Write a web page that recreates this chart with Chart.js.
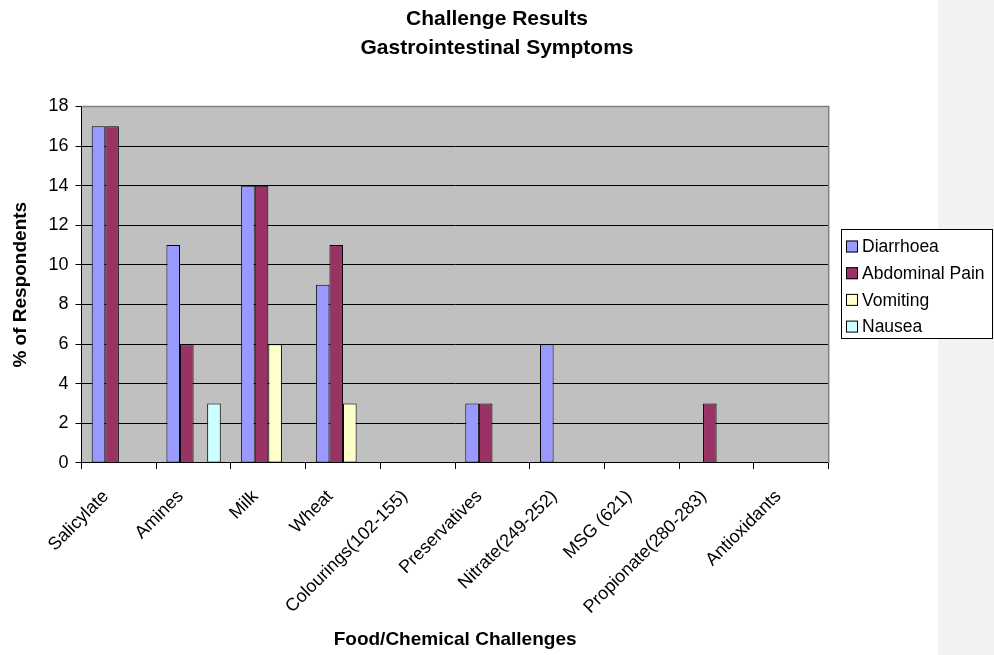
<!DOCTYPE html>
<html>
<head>
<meta charset="utf-8">
<script src="https://cdn.jsdelivr.net/npm/chart.js@4"></script>
<style>
  html, body { margin: 0; padding: 0; background: #fff; }
  #wrap { position: relative; width: 994px; height: 655px; }
  #band { position: absolute; left: 938px; top: 0; width: 56px; height: 655px; background: #f2f2f2; }
  #c { position: absolute; left: 0; top: 0; }
</style>
</head>
<body>
<div id="wrap">
  <div id="band"></div>
  <canvas id="c" width="994" height="655"></canvas>
</div>
<script>
// categories and series
const categories = ['Salicylate', 'Amines', 'Milk', 'Wheat', 'Colourings(102-155)', 'Preservatives',
  'Nitrate(249-252)', 'MSG (621)', 'Propionate(280-283)', 'Antioxidants'];
const diarrhoea    = [17, 11, 14, 9, 0, 3, 6, 0, 0, 0];
const abdominalPain = [17, 6, 14, 11, 0, 3, 0, 0, 3, 0];
const vomiting     = [0, 0, 6, 3, 0, 0, 0, 0, 0, 0];
const nausea       = [0, 3, 0, 0, 0, 0, 0, 0, 0, 0];
const yTicks = [0, 2, 4, 6, 8, 10, 12, 14, 16, 18];

const FONT = 'Arial, "Liberation Sans", sans-serif';
Chart.defaults.font.family = FONT;
Chart.defaults.color = '#000';

// grey plot area + frame
const plotBg = {
  id: 'plotBg',
  beforeDraw(chart) {
    const { ctx, chartArea: a } = chart;
    ctx.save();
    ctx.fillStyle = '#c0c0c0';
    ctx.fillRect(a.left, a.top, a.right - a.left, a.bottom - a.top);
    ctx.restore();
  },
  beforeDatasetsDraw(chart) {
    const { ctx, chartArea: a } = chart;
    ctx.save();
    ctx.strokeStyle = '#808080';
    ctx.lineWidth = 1.5;
    ctx.beginPath();
    ctx.moveTo(a.left, a.top);
    ctx.lineTo(a.right, a.top);
    ctx.lineTo(a.right, a.bottom);
    ctx.stroke();
    ctx.restore();
  }
};

// boxed legend like the Excel one
const boxLegend = {
  id: 'boxLegend',
  afterDraw(chart) {
    const ctx = chart.ctx;
    const x = 841, y = 229, w = 151, h = 109;
    ctx.save();
    ctx.fillStyle = '#fff';
    ctx.fillRect(x, y, w, h);
    ctx.strokeStyle = '#000';
    ctx.lineWidth = 1;
    ctx.strokeRect(x + 0.5, y + 0.5, w, h);
    ctx.font = '17.5px ' + FONT;
    ctx.textBaseline = 'middle';
    chart.data.datasets.forEach((ds, i) => {
      const cy = y + 17.5 + i * 26.7;
      ctx.fillStyle = ds.backgroundColor;
      ctx.fillRect(846, cy - 6, 12, 12);
      ctx.strokeRect(846.5, cy - 5.5, 11, 11);
      ctx.fillStyle = '#000';
      ctx.fillText(ds.label, 862, cy + 1);
    });
    ctx.restore();
  }
};

const bar = (label, data, color) => ({
  label, data, backgroundColor: color, borderColor: '#000', borderWidth: 1,
  borderSkipped: false, categoryPercentage: 4 / 5.5, barPercentage: 1
});

new Chart(document.getElementById('c'), {
  type: 'bar',
  data: {
    labels: categories,
    datasets: [
      bar('Diarrhoea', diarrhoea, '#9999ff'),
      bar('Abdominal Pain', abdominalPain, '#993366'),
      bar('Vomiting', vomiting, '#ffffcc'),
      bar('Nausea', nausea, '#ccffff')
    ]
  },
  options: {
    responsive: false,
    animation: false,
    layout: { padding: 0 },
    plugins: {
      legend: { display: false },
      tooltip: { enabled: false },
      title: {
        display: true,
        text: ['Challenge Results', 'Gastrointestinal Symptoms'],
        font: { size: 21, weight: 'bold', lineHeight: 1.38 },
        color: '#000',
        padding: { top: 4.5, bottom: 44 }
      }
    },
    scales: {
      x: {
        grid: { display: true, drawOnChartArea: false, drawTicks: true, tickLength: 6, color: '#000', offset: true },
        border: { color: '#000', width: 1 },
        ticks: { autoSkip: false, minRotation: 45, maxRotation: 45, font: { size: 18 }, color: '#000',
          padding: 17, labelOffset: -13 },
        title: { display: true, text: 'Food/Chemical Challenges', font: { size: 19, weight: 'bold', lineHeight: 1 },
          color: '#000', padding: { top: -4.5, bottom: 5.5 } }
      },
      y: {
        min: 0, max: 18,
        afterBuildTicks(scale) { scale.ticks = yTicks.map(v => ({ value: v })); },
        grid: { color: '#000', lineWidth: 1, tickLength: 6 },
        border: { color: '#000', width: 1 },
        ticks: { font: { size: 18 }, color: '#000', padding: 7 },
        title: { display: true, text: '% of Respondents', font: { size: 19, weight: 'bold' }, color: '#000',
          padding: { top: 9, bottom: 9.7 } }
      },
      // empty strip on the right that holds the legend
      side: {
        type: 'linear', axis: 'y', position: 'right', display: true,
        grid: { display: false }, border: { display: false }, ticks: { display: false },
        afterFit(scale) { scale.width = 165.3; }
      }
    }
  },
  plugins: [plotBg, boxLegend]
});
</script>
</body>
</html>
